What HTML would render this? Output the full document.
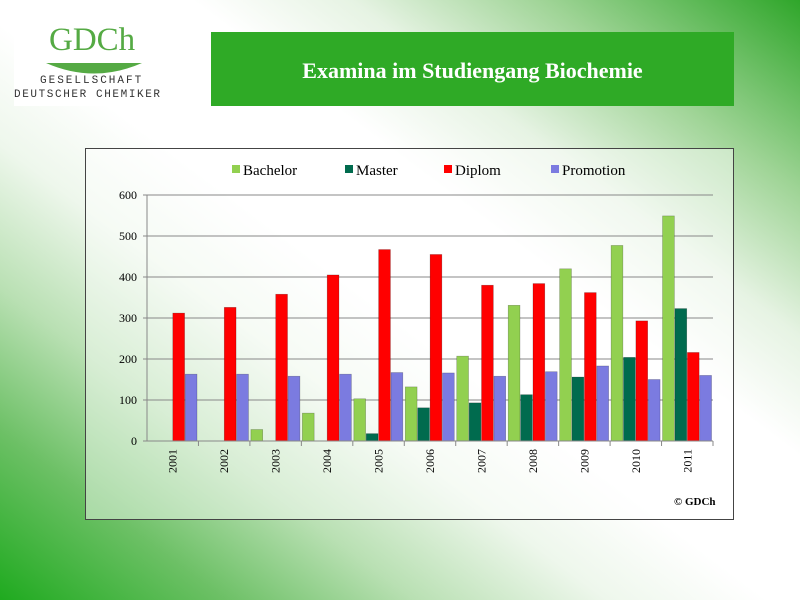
<!DOCTYPE html>
<html><head><meta charset="utf-8"><style>
body{margin:0;width:800px;height:600px;overflow:hidden;font-family:"Liberation Serif",serif}
#bg{position:absolute;left:0;top:0;width:800px;height:600px;
background:linear-gradient(to top right,#1faa1f 0%,#6cc065 14%,#b9e0b3 26%,#eef7ec 38%,#ffffff 48%,#ffffff 62%,#e6f3e3 72%,#9fd496 84%,#2fa62a 100%);}
</style></head><body>
<div id="bg"></div>
<div style="position:absolute;left:14px;top:24px;width:160px;height:82px;background:#fff">
  <div style="position:absolute;left:35px;top:-2px;color:#55aa44;font-family:'Liberation Serif',serif;font-size:33px">GDCh</div>
  <svg style="position:absolute;left:30px;top:36px" width="100" height="20"><path d="M2 3 L98 3 Q50 24 2 3 Z" fill="#55aa44"/></svg>
  <div style="position:absolute;left:26px;top:51px;font-family:'Liberation Mono',monospace;font-size:11px;letter-spacing:2px;color:#333">GESELLSCHAFT</div>
  <div style="position:absolute;left:0;top:65px;font-family:'Liberation Mono',monospace;font-size:11px;letter-spacing:1.6px;color:#333;white-space:nowrap">DEUTSCHER CHEMIKER</div>
</div>
<div style="position:absolute;left:211px;top:32px;width:523px;height:74px;background:#2faa26;color:#fff;font-weight:bold;font-size:22px;text-align:center;line-height:78px">Examina im Studiengang Biochemie</div>
<div style="position:absolute;left:85px;top:148px;width:647px;height:370px;border:1.5px solid #444;box-sizing:content-box;background:rgba(255,255,255,0.45)"></div>
<svg id="chart" width="800" height="600" style="position:absolute;left:0;top:0"></svg>
<script>
const years=["2001","2002","2003","2004","2005","2006","2007","2008","2009","2010","2011"];
const bachelor=[0,0,28,68,103,132,207,331,420,477,549];
const master=[0,0,0,0,18,81,93,113,156,204,323];
const diplom=[312,326,358,405,467,455,380,384,362,293,216];
const promotion=[163,163,158,163,167,166,158,169,183,150,160];
const ticks=[0,100,200,300,400,500,600];
const seriesNames=["Bachelor","Master","Diplom","Promotion"];
const colors=["#92d050","#006b4e","#ff0000","#7b7be0"];
const series=[bachelor,master,diplom,promotion];
const NS="http://www.w3.org/2000/svg";
const svg=document.getElementById('chart');
const x0=147,x1=713,y0=441,y1=195,ymax=600;
const gw=(x1-x0)/years.length,bw=12.4;
const y=v=>y0-(v/ymax)*(y0-y1);
function mk(t,a,p){const e=document.createElementNS(NS,t);for(const k in a)e.setAttribute(k,a[k]);(p||svg).appendChild(e);return e;}
ticks.forEach(t=>{
  const l=mk('line',{x1:x0-4,x2:x1,y1:y(t),y2:y(t),stroke:'#888','stroke-width':1});
  
  
  const tx=mk('text',{x:x0-10,y:y(t)+4,'text-anchor':'end','font-size':12,'font-family':'Liberation Serif, serif',fill:'#000'});
  tx.textContent=t;
  
  
});
mk('line',{x1:x0,x2:x0,y1:y1,y2:y0,stroke:'#888'});
years.forEach((yr,i)=>{
  const g=x0+i*gw;
  const tk=mk('line',{x1:g+gw,x2:g+gw,y1:y0,y2:y0+5,stroke:'#888'});
  
  
  series.forEach((s,j)=>{
    const v=s[i];if(v<=0)return;
    const r=mk('rect',{x:g+1+j*bw,y:y(v),width:bw-0.6,height:y0-y(v),fill:colors[j],stroke:'rgba(0,0,0,0.3)','stroke-width':0.6});
    
    
  });
  const cx=g+gw/2+4;
  const lb=mk('text',{x:cx,y:y0+8,'text-anchor':'end','font-size':12,'font-family':'Liberation Serif, serif',transform:`rotate(-90 ${cx} ${y0+8})`});
  lb.textContent=yr;
  
  
});
mk('line',{x1:x0,x2:x1,y1:y0,y2:y0,stroke:'#888'});
const lx=[232,345,444,551];
seriesNames.forEach((n,j)=>{
  const sw=mk('rect',{x:lx[j],y:165,width:8,height:8,fill:colors[j]});
  
  
  const t=mk('text',{x:lx[j]+11,y:175,'font-size':15,'font-family':'Liberation Serif, serif'});
  t.textContent=n;
  
  
});
const c=mk('text',{x:674,y:505,'font-size':11,'font-weight':'bold','font-family':'Liberation Serif, serif'});
c.textContent='© GDCh';


</script>
</body></html>
